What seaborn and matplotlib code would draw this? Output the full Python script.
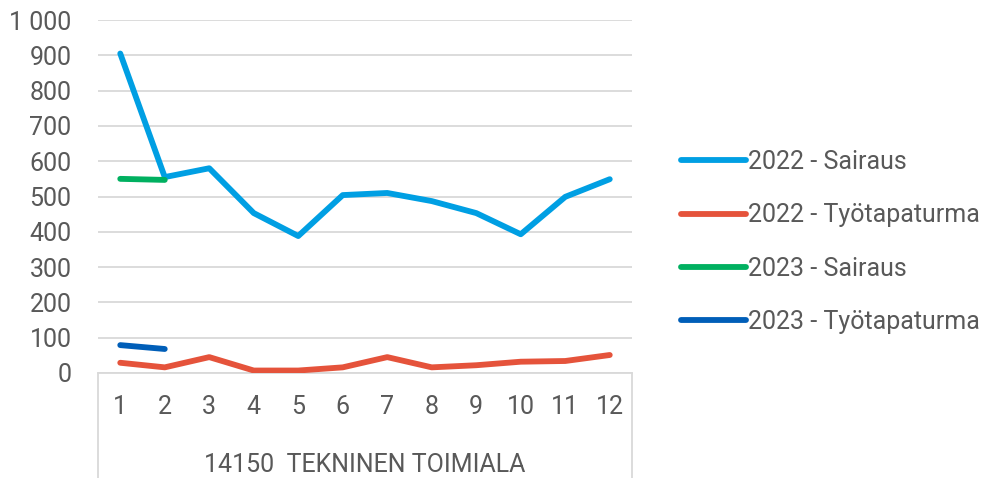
import matplotlib
matplotlib.use("Agg")
import numpy as np
import pandas as pd
import seaborn as sns
from matplotlib import pyplot as plt
from matplotlib.lines import Line2D

# data
months = list(range(1, 13))
sairaus_2022 = [905, 555, 580, 453, 388, 504, 510, 487, 453, 393, 499, 549]
tyotapaturma_2022 = [29, 16, 45, 7, 7, 16, 45, 16, 22, 32, 34, 51]
sairaus_2023 = [550, 547]
tyotapaturma_2023 = [79, 68]
group_label = "14150  TEKNINEN TOIMIALA"
y_ticks = [0, 100, 200, 300, 400, 500, 600, 700, 800, 900, 1000]
y_tick_labels = ["0", "100", "200", "300", "400", "500", "600", "700", "800", "900", "1 000"]

series = [
    ("2022 - Sairaus", months, sairaus_2022, "#009FE3"),
    ("2022 - Työtapaturma", months, tyotapaturma_2022, "#E5533B"),
    ("2023 - Sairaus", months[:2], sairaus_2023, "#00B060"),
    ("2023 - Työtapaturma", months[:2], tyotapaturma_2023, "#005EB8"),
]

sns.set_style("white")
plt.rcParams["font.family"] = ["Roboto", "DejaVu Sans"]
text_col = "#595959"
grid_col = "#D9D9D9"
fs = 18

fig = plt.figure(figsize=(9.9, 4.78), dpi=100)
ax = fig.add_axes([98 / 990, 1 - 373 / 478, (632 - 98) / 990, (373 - 20) / 478])

handles = []
for name, xs, ys, col in series:
    df = pd.DataFrame({"x": xs, "y": ys})
    sns.lineplot(data=df, x="x", y="y", ax=ax, color=col, linewidth=4.2,
                 solid_capstyle="round", solid_joinstyle="round", zorder=3)
    handles.append(Line2D([0], [0], color=col, linewidth=4.2, solid_capstyle="round", label=name))

ax.set_xlim(0.5, 12.5)
ax.set_ylim(0, 1000)
ax.set_yticks(y_ticks)
ax.set_yticklabels(y_tick_labels)
ax.set_xticks(months)
ax.set_xticklabels([str(m) for m in months])
ax.set_xlabel("")
ax.set_ylabel("")
ax.tick_params(axis="y", length=0, pad=19, labelsize=fs, labelcolor=text_col)
ax.tick_params(axis="x", length=0, pad=16, labelsize=fs, labelcolor=text_col)

for s in ["top", "right", "left"]:
    ax.spines[s].set_visible(False)
ax.spines["bottom"].set_color(grid_col)
ax.spines["bottom"].set_linewidth(1.3)
ax.grid(axis="y", color=grid_col, linewidth=1.3)
ax.set_axisbelow(True)

# multi-level category axis box
for xf in (0, 1):
    ax.plot([xf, xf], [0, -0.3], transform=ax.transAxes, color=grid_col,
            linewidth=1.3, clip_on=False)
ax.text(0.5, -0.262, group_label, transform=ax.transAxes, ha="center", va="center",
        fontsize=fs, color=text_col)

fig.legend(handles=handles, loc="center left", bbox_to_anchor=(671 / 990, 1 - 242 / 478),
           frameon=False, fontsize=fs, handlelength=2.6, handletextpad=0.1,
           labelspacing=1.17, labelcolor=text_col, borderaxespad=0)

fig.savefig("out.png", dpi=100)
